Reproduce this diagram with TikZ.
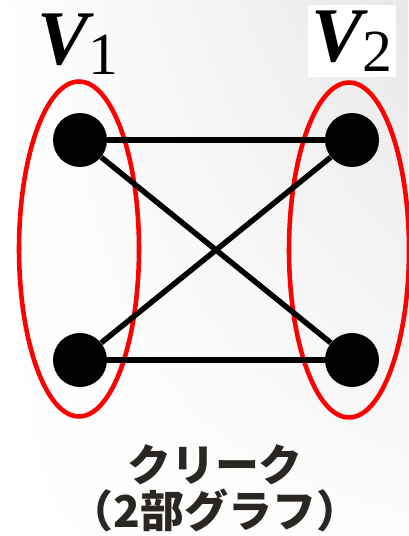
\documentclass[tikz,border=0pt]{standalone}
\usepackage{fontspec}
\setmainfont{Liberation Serif}
\newfontfamily\lblfont{Liberation Serif}[BoldItalicFont=* Bold Italic]
\newfontfamily\jpfont{Noto Sans CJK JP}
\usetikzlibrary{shapes.geometric,shadings}
\definecolor{GRed}{HTML}{FF0000}
\definecolor{GText}{HTML}{2A2722}
\begin{document}
\begin{tikzpicture}[
        x=0.02cm,y=-0.02cm,
        vertex/.style={circle,fill=black,inner sep=0pt,minimum size=1.08cm},
        part/.style={ellipse,draw=GRed,line width=2.6pt,inner sep=0pt,
          minimum width=2.4cm,minimum height=6.7cm},
        edge/.style={line width=3.1pt,black},
        setlabel/.style={inner sep=2pt,font=\lblfont\fontsize{44}{44}\selectfont},
        caption/.style={text=GText,align=center,
          font=\jpfont\bfseries\fontsize{25}{26}\selectfont}
      ]
        \shade[upper left=white,lower left=white,upper right=black!9,lower right=black!1]
          (0,0) rectangle (408,536);
        \useasboundingbox (0,0) rectangle (408,536);
        \node[part] (part1) at (79,249) {};
        \node[part] (part2) at (349,250) {};
        \node[vertex] (a1) at (80,140) {};
        \node[vertex] (a2) at (80,360) {};
        \node[vertex] (b1) at (352,140) {};
        \node[vertex] (b2) at (352,360) {};
        \draw[edge] (a1)--(b1);
        \draw[edge] (a2)--(b2);
        \draw[edge] (a1)--(b2);
        \draw[edge] (a2)--(b1);
        \node[setlabel] (v1) at (78,44) {{\bfseries\itshape V}\lower5.5pt\hbox{\fontsize{34}{34}\selectfont 1}};
        \node[setlabel,fill=white,minimum width=1.58cm,minimum height=1.44cm] (v2) at (352,41) {{\bfseries\itshape V}\lower5.5pt\hbox{\fontsize{34}{34}\selectfont 2}};
        \node[caption] (title) at (215,488) {クリーク\\（2部グラフ）};
      \end{tikzpicture}
\end{document}
